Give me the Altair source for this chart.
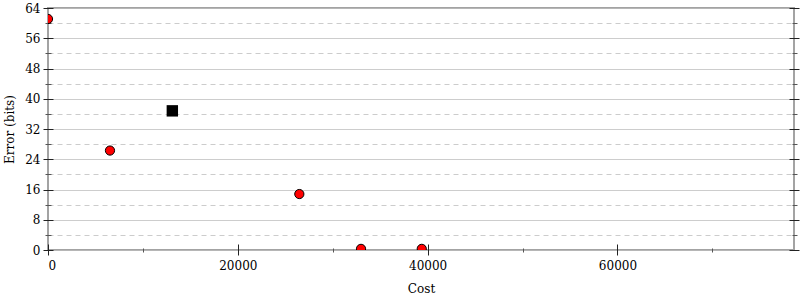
import altair as alt
import pandas as pd

# data
cost_pts = [0, 6530, 26480, 32980, 39380]
err_pts = [61.1, 26.3, 14.8, 0.3, 0.3]
cost_best = [13100]
err_best = [36.8]

x_ticks = [0, 10000, 20000, 30000, 40000, 50000, 60000, 70000]
y_ticks = list(range(0, 65, 4))

df_pts = pd.DataFrame({"cost": cost_pts, "err": err_pts})
df_best = pd.DataFrame({"cost": cost_best, "err": err_best})

FONT = "DejaVu Serif"
x_dom = [0, 78600]
y_dom = [0, 64]

major_x = "datum.value % 20000 == 0"
major_y = "datum.value % 8 == 0"

x_axis = alt.Axis(
    values=x_ticks, format="d", title="Cost",
    labelExpr=f"{major_x} ? datum.label : ''", labelOverlap=False,
    domain=False, grid=False, offset=-6, tickSize=11, labelPadding=5,
    tickColor={"condition": {"test": major_x, "value": "#222"}, "value": "#555"},
    tickDash={"condition": {"test": major_x, "value": [11, 0]}, "value": [0, 4, 4, 100]},
    titlePadding=12,
)

y_axis = alt.Axis(
    values=y_ticks, title="Error (bits)",
    labelExpr=f"{major_y} ? datum.label : ''", labelOverlap=False,
    domain=False, grid=True, offset=-5, tickSize=10, labelPadding=3,
    gridColor={"condition": {"test": major_y, "value": "#bdbdbd"}, "value": "#cccccc"},
    gridDash={"condition": {"test": major_y, "value": [1, 0]}, "value": [5, 4]},
    tickColor={"condition": {"test": major_y, "value": "#222"}, "value": "#555"},
    tickDash={"condition": {"test": major_y, "value": [10, 0]}, "value": [0, 2, 6, 100]},
    titlePadding=8,
)

y_axis_right = alt.Axis(
    values=y_ticks, title=None, labels=False, orient="right",
    domain=False, grid=False, offset=-5, tickSize=10,
    tickColor={"condition": {"test": major_y, "value": "#222"}, "value": "#555"},
    tickDash={"condition": {"test": major_y, "value": [10, 0]}, "value": [0, 3, 5, 100]},
)

xs = alt.Scale(domain=x_dom, nice=False, zero=False)
ys = alt.Scale(domain=y_dom, nice=False, zero=False)

pts = alt.Chart(df_pts).mark_circle(
    size=85, color="#ff0000", stroke="black", strokeWidth=1, opacity=1, clip=True
).encode(
    x=alt.X("cost:Q", scale=xs, axis=x_axis),
    y=alt.Y("err:Q", scale=ys, axis=y_axis),
)

best = alt.Chart(df_best).mark_square(
    size=130, color="black", opacity=1, clip=True
).encode(
    x=alt.X("cost:Q", scale=xs, axis=x_axis),
    y=alt.Y("err:Q", scale=ys, axis=y_axis),
)

right = alt.Chart(df_pts).mark_circle(opacity=0).encode(
    x=alt.X("cost:Q", scale=xs, axis=x_axis),
    y=alt.Y("err:Q", scale=ys, axis=y_axis_right),
)

chart = alt.layer(pts + best, right).resolve_scale(y="independent").properties(
    width=746, height=242, background="white",
    autosize=alt.AutoSizeParams(type="none"),
    padding={"left": 48, "top": 8, "right": 6, "bottom": 50},
).configure_view(
    stroke="#a3a3a3", strokeWidth=2
).configure_axis(
    labelFont=FONT, titleFont=FONT, labelFontSize=12, titleFontSize=12,
    labelColor="black", titleColor="black", titleFontWeight="normal",
    tickWidth=1,
)

chart.save("out.html", embed_options={"renderer": "svg", "actions": False})
